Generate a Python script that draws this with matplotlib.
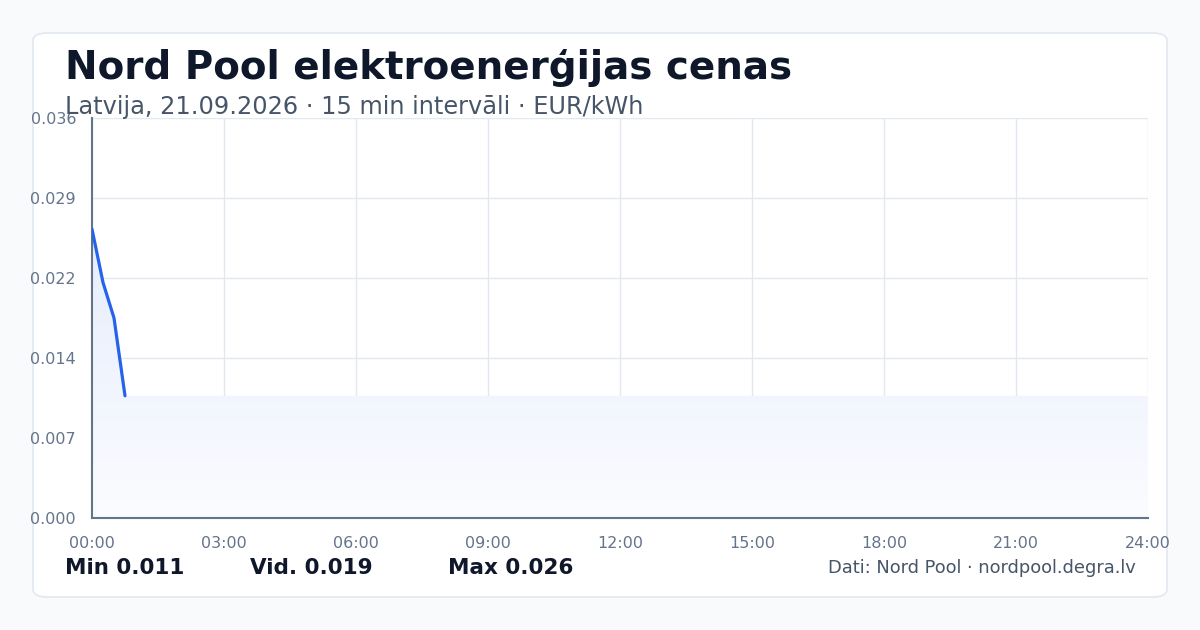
import numpy as np
import matplotlib
matplotlib.use("Agg")
import matplotlib.pyplot as plt
from matplotlib.patches import FancyBboxPatch, Polygon

# data (hours since midnight, EUR/kWh)
hours = [0.0, 0.25, 0.5, 0.75]
prices = [0.0260, 0.0212, 0.0180, 0.0110]
x_ticks = [0, 3, 6, 9, 12, 15, 18, 21, 24]
x_labels = ['00:00', '03:00', '06:00', '09:00', '12:00', '15:00', '18:00', '21:00', '24:00']
y_max = 0.036

title = 'Nord Pool elektroenerģijas cenas'
subtitle = 'Latvija, 21.09.2026 · 15 min intervāli · EUR/kWh'
source = 'Dati: Nord Pool · nordpool.degra.lv'

W, H = 1200, 630
fig = plt.figure(figsize=(W / 100, H / 100), dpi=100)
fig.patch.set_facecolor('#f8fafc')

# white card behind everything
card = FancyBboxPatch((33 / W, 1 - 597 / H), (1167 - 33) / W, (597 - 33) / H,
                      boxstyle='round,pad=0,rounding_size=0.012',
                      transform=fig.transFigure, facecolor='white',
                      edgecolor='#e2e8f0', linewidth=1.2, zorder=-10)
fig.patches.append(card)

ax = fig.add_axes([92 / W, 1 - 518 / H, (1148 - 92) / W, (518 - 118) / H])
ax.set_facecolor('none')
ax.set_xlim(0, 24)
ax.set_ylim(0, y_max)

yt = np.linspace(0, y_max, 6)
ax.set_yticks(yt)
ax.set_yticklabels([f'{v:.3f}' for v in yt])
ax.set_xticks(x_ticks)
ax.set_xticklabels(x_labels)
ax.grid(True, color='#e2e8f0', linewidth=1)
ax.set_axisbelow(True)
ax.tick_params(length=0, labelsize=11.5, colors='#64748b')
ax.tick_params(axis='x', pad=13)
ax.tick_params(axis='y', pad=11.5)
for s in ['top', 'right']:
    ax.spines[s].set_visible(False)
for s in ['left', 'bottom']:
    ax.spines[s].set_color('#64748b')
    ax.spines[s].set_linewidth(1.5)

# gradient fill under line, held at last value to end of day
fx = hours + [24, 24, 0]
fy = prices + [prices[-1], 0, 0]
poly = Polygon(np.column_stack([fx, fy]), closed=True, facecolor='none', edgecolor='none')
ax.add_patch(poly)
grad = np.linspace(0, 1, 256).reshape(-1, 1)
cmap = matplotlib.colors.LinearSegmentedColormap.from_list('g', ['#fbfcff', '#e6edfc'])
img = ax.imshow(grad, extent=[0, 24, 0, max(prices)], origin='lower', aspect='auto',
                cmap=cmap, zorder=1)
img.set_clip_path(poly)

ax.plot(hours, prices, color='#2563eb', linewidth=2.3, solid_capstyle='round', zorder=3)

fig.text(65 / W, 1 - 68 / H, title, fontsize=28, fontweight='bold', color='#0f172a',
         ha='left', va='center')
fig.text(65 / W, 1 - 107 / H, subtitle, fontsize=17.3, color='#475569', ha='left', va='center')

stats = [('Min', min(prices), 65), ('Vid.', np.mean(prices), 250), ('Max', max(prices), 448)]
for name, val, px in stats:
    fig.text(px / W, 1 - 568 / H, f'{name} {val:.3f}', fontsize=15.5, fontweight='bold',
             color='#0f172a', ha='left', va='center')
fig.text(1136 / W, 1 - 568 / H, source, fontsize=12.9, color='#475569', ha='right', va='center')

fig.savefig('out.png', dpi=100, facecolor=fig.get_facecolor())
